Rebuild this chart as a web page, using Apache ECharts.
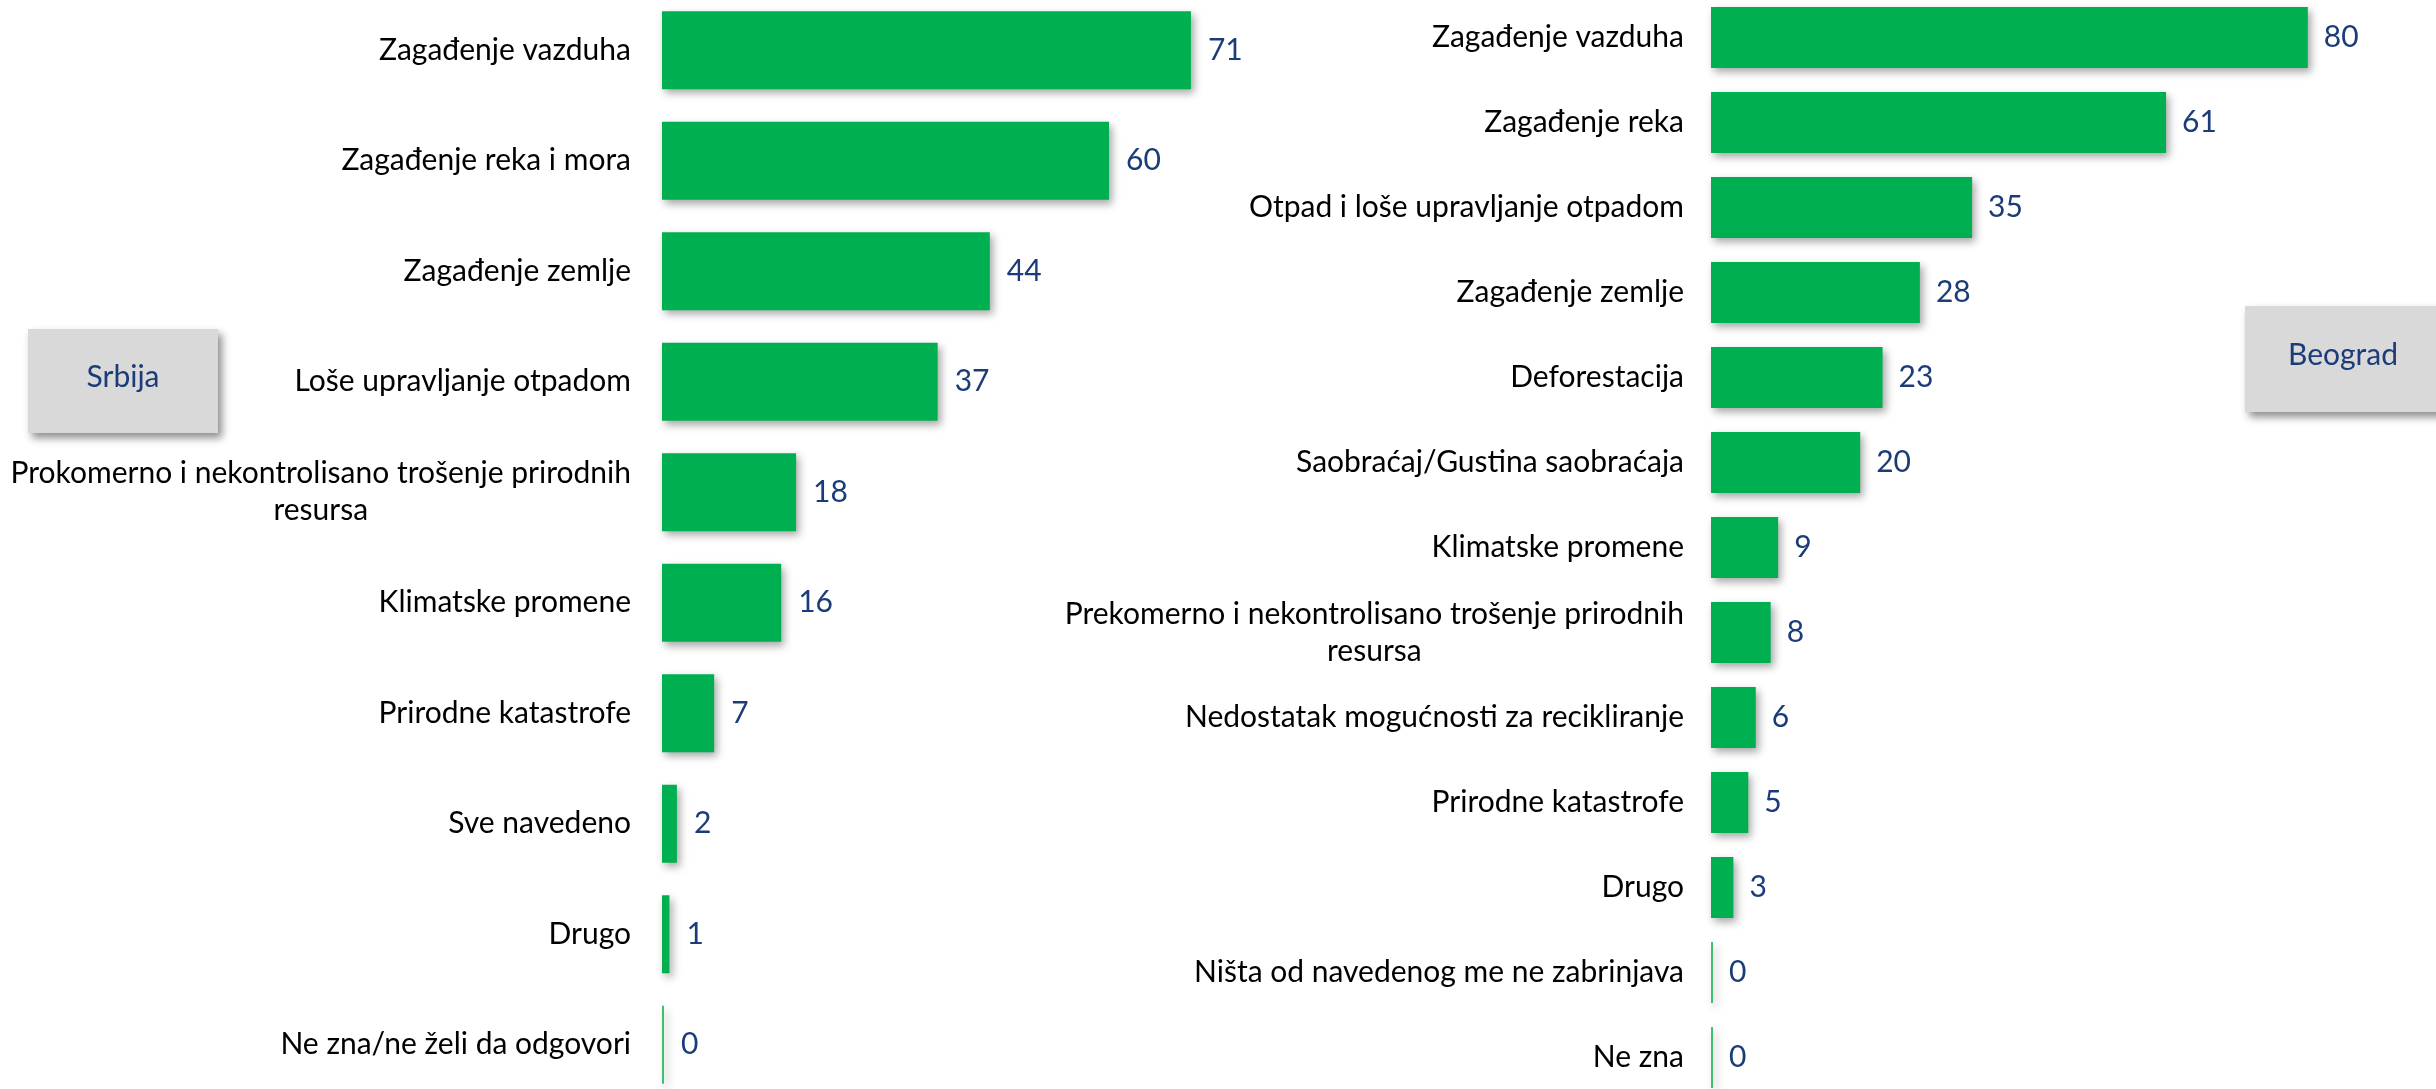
<!DOCTYPE html>
<html><head><meta charset="utf-8">
<script src="https://cdn.jsdelivr.net/npm/echarts@6/dist/echarts.min.js"></script>
<style>html,body{margin:0;padding:0;background:#fff}#c{width:2436px;height:1089px}</style>
</head><body><div id="c"></div>
<script>
const srbijaCategories = [
  'Zagađenje vazduha',
  'Zagađenje reka i mora',
  'Zagađenje zemlje',
  'Loše upravljanje otpadom',
  'Prokomerno i nekontrolisano trošenje prirodnih\nresursa',
  'Klimatske promene',
  'Prirodne katastrofe',
  'Sve navedeno',
  'Drugo',
  'Ne zna/ne želi da odgovori'
];
const srbijaValues = [71, 60, 44, 37, 18, 16, 7, 2, 1, 0];

const beogradCategories = [
  'Zagađenje vazduha',
  'Zagađenje reka',
  'Otpad i loše upravljanje otpadom',
  'Zagađenje zemlje',
  'Deforestacija',
  'Saobraćaj/Gustina saobraćaja',
  'Klimatske promene',
  'Prekomerno i nekontrolisano trošenje prirodnih\nresursa',
  'Nedostatak mogućnosti za recikliranje',
  'Prirodne katastrofe',
  'Drugo',
  'Ništa od navedenog me ne zabrinjava',
  'Ne zna'
];
const beogradValues = [80, 61, 35, 28, 23, 20, 9, 8, 6, 5, 3, 0, 0];

const panelTitles = ['Srbija', 'Beograd'];

// ---- styling ----
const FONT = 'Lato';
const cv = document.createElement('canvas').getContext('2d');
cv.font = '100px ' + FONT;
const w1 = cv.measureText('Zagađenje vazduha').width;
const w2 = cv.measureText('Prokomerno i nekontrolisano trošenje prirodnih').width;
const FS = Math.round(((250 / w1 + 627 / w2) / 2) * 100 * 10) / 10;

const GREEN = '#00B050';
const NAVY = '#1B3C78';

function catLabel(v) {
  return v.split('\n').map(l => '{c|' + l + '}').join('\n');
}

function makeY(idx, cats, margin) {
  return {
    type: 'category', gridIndex: idx, data: cats, inverse: true,
    axisLine: { show: false }, axisTick: { show: false }, splitLine: { show: false },
    axisLabel: {
      margin: margin, formatter: catLabel, color: '#000',
      rich: { c: { align: 'center', fontFamily: FONT, fontSize: FS, color: '#000', lineHeight: 37 } }
    }
  };
}
function makeX(idx) {
  return { type: 'value', gridIndex: idx, min: 0, max: 100, show: false, splitLine: { show: false } };
}
function makeSeries(idx, vals, bw, dist) {
  return {
    type: 'bar', xAxisIndex: idx, yAxisIndex: idx, data: vals,
    barWidth: bw, barMinHeight: 2,
    itemStyle: {
      color: p => (p.value === 0 ? '#3FC06E' : GREEN),
      shadowColor: 'rgba(0,0,0,0.35)', shadowBlur: 8, shadowOffsetX: 3, shadowOffsetY: 4
    },
    label: { show: true, position: 'right', distance: dist, color: NAVY, fontFamily: FONT, fontSize: FS },
    silent: true, animation: false
  };
}

function box(x, y, w, h, text) {
  return {
    type: 'group', left: x, top: y,
    children: [
      { type: 'rect', shape: { x: 0, y: 0, width: w, height: h },
        style: { fill: '#D9D9D9', shadowColor: 'rgba(0,0,0,0.45)', shadowBlur: 8, shadowOffsetX: 4, shadowOffsetY: 5 } },
      { type: 'text', x: w / 2, y: h / 2 - 4,
        style: { text: text, fill: NAVY, font: FS + 'px ' + FONT, textAlign: 'center', textVerticalAlign: 'middle' } }
    ]
  };
}

const chart = echarts.init(document.getElementById('c'), null, { renderer: 'canvas' });
chart.setOption({
  animation: false,
  backgroundColor: '#fff',
  grid: [
    { left: 662, width: 745, top: -5, height: 1105, containLabel: false, outerBoundsMode: 'none' },
    { left: 1711, width: 746, top: -5, height: 1105, containLabel: false, outerBoundsMode: 'none' }
  ],
  xAxis: [makeX(0), makeX(1)],
  yAxis: [makeY(0, srbijaCategories, 31), makeY(1, beogradCategories, 27)],
  series: [makeSeries(0, srbijaValues, 78, 17), makeSeries(1, beogradValues, 61, 16)],
  graphic: [
    box(28, 329, 190, 104, panelTitles[0]),
    box(2245, 306, 196, 106, panelTitles[1])
  ]
});
</script>
</body></html>
